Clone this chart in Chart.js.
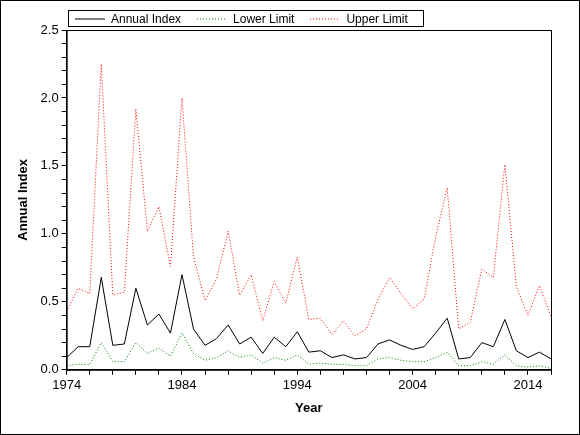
<!DOCTYPE html>
<html>
<head>
<meta charset="utf-8">
<script src="https://cdn.jsdelivr.net/npm/chart.js@4/dist/chart.umd.min.js"></script>
<style>
  body { margin: 0; background: #fff; }
  #wrap { position: relative; width: 578px; height: 433px; border: 1px solid #000; }
  #legend { position: absolute; left: 67px; top: 9px; width: 354px; height: 15px; border: 1px solid #000;
            font: 12px "Liberation Sans", Arial, sans-serif; display: flex; align-items: center; }
  #legend span { display: inline-flex; align-items: center; margin-left: 6px; margin-right: 10px; }
  #legend svg { margin-right: 6px; }
</style>
</head>
<body>
<div id="wrap">
  <canvas id="c" width="578" height="433"></canvas>
  <div id="legend">
    <span><svg width="30" height="4"><line x1="0" y1="2" x2="30" y2="2" stroke="#000" stroke-width="1"/></svg>Annual Index</span>
    <span><svg width="30" height="4"><line x1="0" y1="2" x2="30" y2="2" stroke="#008000" stroke-width="1" stroke-dasharray="1,2"/></svg>Lower Limit</span>
    <span><svg width="30" height="4"><line x1="0" y1="2" x2="30" y2="2" stroke="#ff0000" stroke-width="1" stroke-dasharray="1,2"/></svg>Upper Limit</span>
  </div>
</div>
<script>
var years = [];
for (var y = 1974; y <= 2016; y++) years.push(y);

var annualIndex = [0.09, 0.17, 0.17, 0.68, 0.18, 0.19, 0.60, 0.33, 0.41, 0.27,
  0.70, 0.30, 0.18, 0.23, 0.33, 0.19, 0.24, 0.12, 0.24, 0.17,
  0.28, 0.13, 0.14, 0.09, 0.11, 0.08, 0.09, 0.19, 0.22, 0.18,
  0.15, 0.17, 0.27, 0.38, 0.08, 0.09, 0.20, 0.17, 0.37, 0.14,
  0.09, 0.13, 0.08];
var lowerLimit = [0.03, 0.04, 0.04, 0.20, 0.06, 0.06, 0.20, 0.12, 0.16, 0.10,
  0.27, 0.12, 0.07, 0.09, 0.14, 0.09, 0.11, 0.05, 0.09, 0.07,
  0.11, 0.04, 0.05, 0.04, 0.04, 0.03, 0.03, 0.08, 0.09, 0.07,
  0.06, 0.06, 0.09, 0.13, 0.03, 0.03, 0.06, 0.04, 0.11, 0.03,
  0.02, 0.03, 0.01];
var upperLimit = [0.43, 0.60, 0.56, 2.25, 0.55, 0.57, 1.92, 1.02, 1.20, 0.76,
  2.00, 0.83, 0.51, 0.67, 1.02, 0.55, 0.70, 0.36, 0.65, 0.49,
  0.83, 0.37, 0.38, 0.26, 0.36, 0.25, 0.30, 0.52, 0.68, 0.56,
  0.45, 0.52, 0.98, 1.34, 0.30, 0.35, 0.74, 0.68, 1.51, 0.61,
  0.40, 0.62, 0.39];

function pts(arr) {
  return arr.map(function(v, i) { return { x: years[i], y: v }; });
}

var boxPlugin = {
  id: 'box',
  afterDraw: function(chart) {
    var a = chart.chartArea, ctx = chart.ctx;
    ctx.save();
    ctx.strokeStyle = '#000';
    ctx.lineWidth = 1;
    ctx.strokeRect(a.left + 0.5, a.top + 0.5, a.right - a.left, a.bottom - a.top);
    ctx.restore();
  }
};

Chart.defaults.font.family = '"Liberation Sans", Arial, sans-serif';
Chart.defaults.color = '#000';

new Chart(document.getElementById('c'), {
  type: 'line',
  data: {
    datasets: [
      { label: 'Annual Index', data: pts(annualIndex), borderColor: '#000', borderWidth: 1, pointRadius: 0, tension: 0 },
      { label: 'Lower Limit', data: pts(lowerLimit), borderColor: '#008000', borderWidth: 1, borderDash: [1, 2], pointRadius: 0, tension: 0 },
      { label: 'Upper Limit', data: pts(upperLimit), borderColor: '#ff0000', borderWidth: 1, borderDash: [1, 2], pointRadius: 0, tension: 0 }
    ]
  },
  options: {
    responsive: false,
    animation: false,
    layout: { padding: { top: 29, right: 28, left: 9, bottom: 14 } },
    plugins: { legend: { display: false }, tooltip: { enabled: false } },
    scales: {
      x: {
        type: 'linear', min: 1974, max: 2016,
        grid: { drawOnChartArea: false, color: '#000', tickLength: 5 },
        border: { color: '#000' },
        ticks: {
          stepSize: 2, autoSkip: false, maxRotation: 0, font: { size: 13 },
          callback: function(v) { return (v - 1974) % 10 === 0 ? String(v) : ''; }
        },
        title: { display: true, text: 'Year', font: { size: 13, weight: 'bold' }, padding: { top: 4 } }
      },
      y: {
        min: 0, max: 2.5,
        grid: { drawOnChartArea: false, color: '#000', tickLength: 5 },
        border: { color: '#000' },
        ticks: {
          stepSize: 0.1, autoSkip: false, font: { size: 13 },
          callback: function(v) { return Math.abs(v * 2 - Math.round(v * 2)) < 1e-6 ? v.toFixed(1) : ''; }
        },
        title: { display: true, text: 'Annual Index', font: { size: 13, weight: 'bold' }, padding: 6 }
      }
    }
  },
  plugins: [boxPlugin]
});
</script>
</body>
</html>
